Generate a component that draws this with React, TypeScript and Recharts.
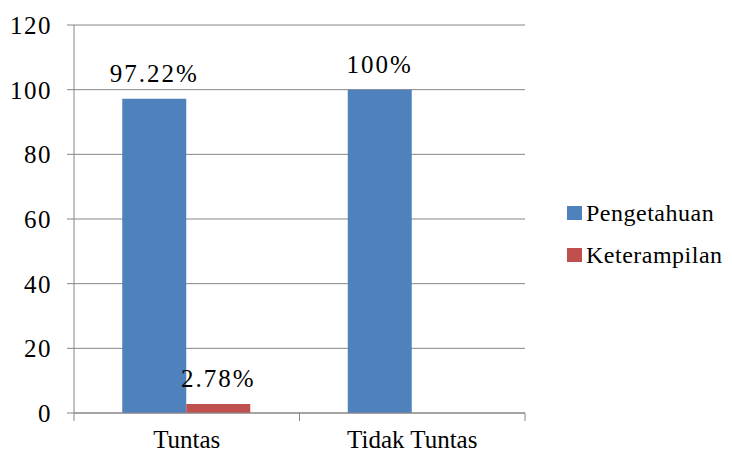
import { BarChart, Bar, XAxis, YAxis, CartesianGrid, LabelList } from 'recharts'

const categories = ['Tuntas', 'Tidak Tuntas']
const pengetahuan = [97.22, 100]
const keterampilan = [2.78, 0]
const yTicks = [0, 20, 40, 60, 80, 100, 120]
const seriesNames = ['Pengetahuan', 'Keterampilan']
const seriesColors = ['#4F81BD', '#C0504D']

const WIDTH = 732
const HEIGHT = 454
const PLOT_LEFT = 74
const PLOT_RIGHT = 525
const BAND = (PLOT_RIGHT - PLOT_LEFT) / categories.length

const FONT = 'Liberation Serif'
const GRID = '#868686'

const data = categories.map((name, i) => ({
  name,
  pengetahuan: pengetahuan[i],
  keterampilan: keterampilan[i],
}))

const pct = (v: any) => (v ? `${v}%` : '')

interface TickProps {
  x?: number
  y?: number
  index?: number
  payload?: { value: string }
}

// category ticks sit on the band edges, like an Excel category axis
function CategoryTick({ x = 0, y = 0, index = 0, payload }: TickProps) {
  const half = BAND / 2
  const last = index === categories.length - 1
  return (
    <g>
      <line x1={x - half} x2={x - half} y1={y} y2={y + 8} stroke={GRID} />
      {last && <line x1={x + half} x2={x + half} y1={y} y2={y + 8} stroke={GRID} />}
      <text x={x} y={y + 35} textAnchor="middle" fill="#000" fontSize={25} fontFamily={FONT}>
        {payload?.value}
      </text>
    </g>
  )
}

function SideLegend() {
  return (
    <div style={{ position: 'absolute', left: 567, top: 192 }}>
      {seriesNames.map((n, i) => (
        <div key={n} style={{ display: 'flex', alignItems: 'center', height: 42 }}>
          <span style={{ width: 15, height: 14, background: seriesColors[i], display: 'inline-block', marginRight: 4 }} />
          <span style={{ fontFamily: FONT, fontSize: 24, color: '#000', letterSpacing: 0.5 }}>{n}</span>
        </div>
      ))}
    </div>
  )
}

export default function App() {
  return (
    <div style={{ position: 'absolute', left: 0, top: 0, width: WIDTH, height: HEIGHT, background: '#fff', overflow: 'hidden' }}>
      <BarChart
        width={WIDTH}
        height={HEIGHT}
        data={data}
        margin={{ top: 25, right: WIDTH - PLOT_RIGHT, bottom: 0, left: 0 }}
        barCategoryGap="21.4%"
        barGap={0}
      >
        <CartesianGrid vertical={false} stroke={GRID} />
        <XAxis
          dataKey="name"
          height={41}
          axisLine={{ stroke: GRID }}
          tickLine={false}
          tickSize={0}
          tickMargin={0}
          interval={0}
          tick={<CategoryTick />}
        />
        <YAxis
          width={PLOT_LEFT}
          domain={[0, 120]}
          ticks={yTicks}
          interval={0}
          axisLine={{ stroke: GRID }}
          tickLine={{ stroke: GRID }}
          tickSize={7}
          tickMargin={15}
          tick={{ fill: '#000', fontSize: 25, fontFamily: FONT, letterSpacing: 1.5 }}
        />
        <Bar dataKey="pengetahuan" name={seriesNames[0]} fill={seriesColors[0]} isAnimationActive={false}>
          <LabelList dataKey="pengetahuan" position="top" offset={17} formatter={pct} fill="#000" fontSize={25} fontFamily={FONT} letterSpacing={2} />
        </Bar>
        <Bar dataKey="keterampilan" name={seriesNames[1]} fill={seriesColors[1]} isAnimationActive={false}>
          <LabelList dataKey="keterampilan" position="top" offset={17} formatter={pct} fill="#000" fontSize={25} fontFamily={FONT} letterSpacing={2} />
        </Bar>
      </BarChart>
      <SideLegend />
    </div>
  )
}
